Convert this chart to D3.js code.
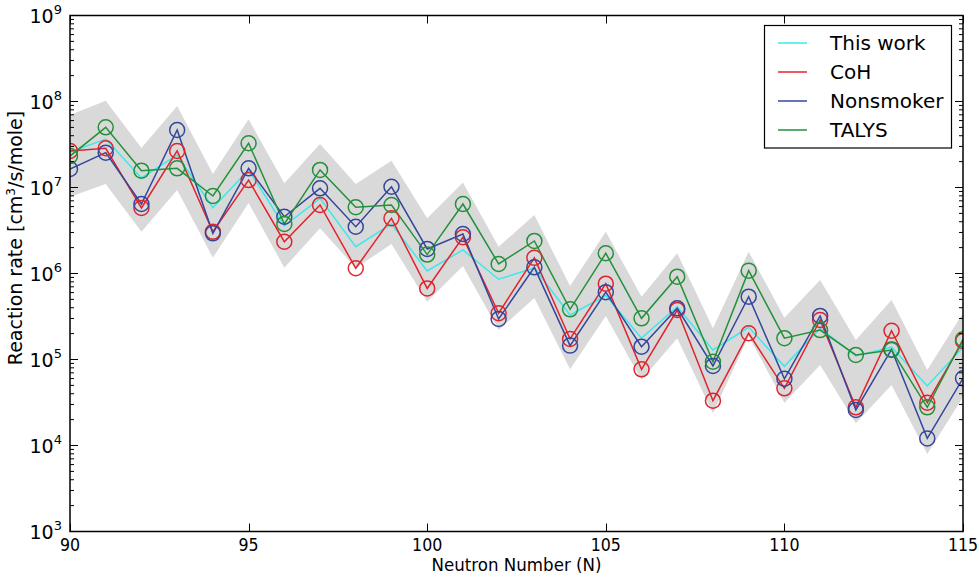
<!DOCTYPE html>
<html>
<head>
<meta charset="utf-8">
<script src="https://cdn.jsdelivr.net/npm/d3@7"></script>
<style>
  html, body { margin: 0; padding: 0; background: #fff; }
  svg { display: block; }
  text { font-family: "DejaVu Sans", sans-serif; fill: #000; }
</style>
</head>
<body>
<svg id="chart" width="979" height="579"></svg>
<script>
// ---- Data ----
const neutronNumbers = [90,91,92,93,94,95,96,97,98,99,100,101,102,103,104,105,106,107,108,109,110,111,112,113,114,115];

const thisWork = [2.59e7,3.66e7,1.29e7,2.39e7,5.82e6,1.60e7,3.57e6,7.49e6,2.05e6,3.77e6,1.07e6,1.88e6,8.57e5,1.16e6,3.29e5,5.55e5,1.77e5,4.11e5,1.29e5,2.37e5,8.34e4,2.31e5,1.10e5,1.39e5,4.92e4,1.39e5];
const coh = [2.66e7,2.86e7,5.78e6,2.66e7,3.06e6,1.22e7,2.34e6,6.26e6,1.15e6,4.38e6,6.70e5,2.64e6,3.45e5,1.52e6,1.73e5,7.61e5,7.69e4,3.76e5,3.32e4,2.02e5,4.62e4,2.88e5,2.78e4,2.16e5,3.15e4,1.64e5];
const nonsmoker = [1.64e7,2.54e7,6.43e6,4.66e7,2.93e6,1.67e7,4.57e6,9.79e6,3.50e6,1.02e7,1.93e6,2.88e6,2.96e5,1.18e6,1.45e5,6.06e5,1.41e5,3.94e5,8.40e4,5.38e5,5.97e4,3.21e5,2.59e4,1.31e5,1.21e4,6.04e4];
const talys = [2.32e7,5.01e7,1.57e7,1.67e7,7.97e6,3.27e7,3.76e6,1.60e7,5.89e6,6.26e6,1.66e6,6.43e6,1.29e6,2.39e6,3.83e5,1.72e6,3.01e5,9.18e5,9.42e4,1.08e6,1.77e5,2.20e5,1.13e5,1.29e5,2.78e4,1.72e5];

const bandHigh = [6.97e7,1.02e8,2.88e7,8.87e7,1.44e7,6.21e7,1.12e7,3.21e7,1.10e7,2.05e7,4.38e6,1.14e7,2.05e6,4.79e6,7.16e5,3.06e6,5.37e5,1.72e6,2.31e5,1.79e6,3.06e5,8.40e5,1.69e5,4.92e5,7.55e4,3.47e5];
const bandLow = [7.82e6,1.10e7,3.06e6,9.35e6,1.53e6,6.60e6,1.17e6,3.36e6,1.16e6,2.20e6,4.70e5,1.22e6,2.20e5,5.19e5,7.69e4,3.21e5,5.78e4,1.77e5,2.37e4,1.88e5,3.15e4,8.63e4,1.81e4,5.05e4,7.96e3,3.66e4];

const xTicks = [90,95,100,105,110,115];
const yDecades = [3,4,5,6,7,8,9];

const seriesNames = ["This work","CoH","Nonsmoker","TALYS"];
const seriesColors = ["#3de8ea","#e0242c","#33479c","#24913a"];
const seriesValues = [thisWork, coh, nonsmoker, talys];
const seriesMarkers = [false, true, true, true];

// ---- Layout ----
const svg = d3.select("#chart");
const L = 70, R = 963, T = 15.5, B = 531.5;

const x = d3.scaleLinear().domain([90,115]).range([L,R]);
const y = d3.scaleLog().domain([1e3,1e9]).range([B,T]);

// band
const bandData = neutronNumbers.map((n,i)=>({n, lo: bandLow[i], hi: bandHigh[i]}));
svg.append("path")
  .datum(bandData)
  .attr("fill","#d9d9d9")
  .attr("stroke","none")
  .attr("d", d3.area().x(d=>x(d.n)).y0(d=>y(d.lo)).y1(d=>y(d.hi)));

// clip
svg.append("clipPath").attr("id","clip").append("rect")
  .attr("x",L).attr("y",T).attr("width",R-L).attr("height",B-T);

const plot = svg.append("g").attr("clip-path","url(#clip)");

seriesValues.forEach((vals, si) => {
  const pts = neutronNumbers.map((n,i)=>({n, v: vals[i]}));
  plot.append("path")
    .datum(pts)
    .attr("fill","none")
    .attr("stroke", seriesColors[si])
    .attr("stroke-width", 1.5)
    .attr("d", d3.line().x(d=>x(d.n)).y(d=>y(d.v)));
});
seriesValues.forEach((vals, si) => {
  if (!seriesMarkers[si]) return;
  const pts = neutronNumbers.map((n,i)=>({n, v: vals[i]}));
  plot.selectAll(null).data(pts).enter().append("circle")
    .attr("cx", d=>x(d.n)).attr("cy", d=>y(d.v)).attr("r", 7.5)
    .attr("fill","none").attr("stroke", seriesColors[si]).attr("stroke-width", 1.5);
});

// axes ticks (inward, all four sides)
const ax = svg.append("g").attr("stroke","#000").attr("stroke-width",1);
xTicks.forEach(t => {
  const px = Math.round(x(t)) + 0.5;
  ax.append("line").attr("x1",px).attr("x2",px).attr("y1",B).attr("y2",B-8);
  ax.append("line").attr("x1",px).attr("x2",px).attr("y1",T).attr("y2",T+8);
});
yDecades.forEach(d => {
  const py = y(Math.pow(10,d));
  ax.append("line").attr("x1",L).attr("x2",L+8).attr("y1",py).attr("y2",py);
  ax.append("line").attr("x1",R).attr("x2",R-8).attr("y1",py).attr("y2",py);
  if (d < 9) {
    for (let m = 2; m <= 9; m++) {
      const pm = y(m*Math.pow(10,d));
      ax.append("line").attr("x1",L).attr("x2",L+4).attr("y1",pm).attr("y2",pm);
      ax.append("line").attr("x1",R).attr("x2",R-4).attr("y1",pm).attr("y2",pm);
    }
  }
});

// frame
svg.append("rect").attr("x",L).attr("y",T).attr("width",R-L).attr("height",B-T)
  .attr("fill","none").attr("stroke","#000").attr("stroke-width",1.5);

// x tick labels
xTicks.forEach(t => {
  svg.append("text").attr("x", x(t)).attr("y", B+20)
    .attr("text-anchor","middle").attr("font-size",18)
    .attr("transform", `translate(${x(t)},0) scale(0.88,1) translate(${-x(t)},0)`)
    .text(t);
});

// y tick labels
yDecades.forEach(d => {
  const py = y(Math.pow(10,d));
  const t = svg.append("text").attr("x", 62).attr("y", py+7)
    .attr("text-anchor","end").attr("font-size",19);
  t.append("tspan").text("10");
  t.append("tspan").attr("dy",-9).attr("font-size",13).text(d);
});

// axis labels
const xl = (L+R)/2;
svg.append("text").attr("x", xl).attr("y", 571)
  .attr("text-anchor","middle").attr("font-size",17)
  .attr("transform", `translate(${xl},0) scale(0.98,1) translate(${-xl},0)`)
  .text("Neutron Number (N)");

const yl = svg.append("text")
  .attr("transform","translate(22,238) rotate(-90)")
  .attr("text-anchor","middle").attr("font-size",19);
yl.append("tspan").text("Reaction rate [cm");
yl.append("tspan").attr("dy",-7).attr("font-size",12).text("3");
yl.append("tspan").attr("dy",7).text("/s/mole]");

// legend
const lg = svg.append("g");
lg.append("rect").attr("x",764.5).attr("y",25.5).attr("width",187).attr("height",122.5)
  .attr("fill","#fff").attr("stroke","#000").attr("stroke-width",1.2);
seriesNames.forEach((name, i) => {
  const ly = 43 + i*29;
  lg.append("line").attr("x1",778).attr("x2",807).attr("y1",ly).attr("y2",ly)
    .attr("stroke",seriesColors[i]).attr("stroke-width",1.5);
  lg.append("text").attr("x",830).attr("y",ly+7).attr("font-size",20).text(name);
});
</script>
</body>
</html>
